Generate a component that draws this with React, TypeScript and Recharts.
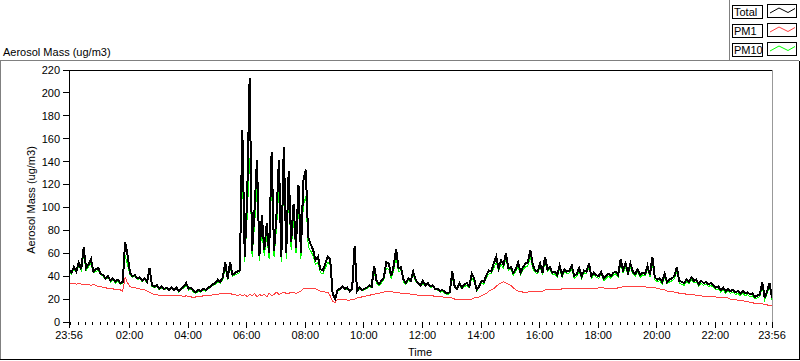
import { Line, LineChart, XAxis, YAxis } from "recharts"

// 5-minute samples starting at 23:56
const total = [
  45, 43, 48, 44, 52, 46, 65, 47, 50, 55, 44, 46,
  47, 42, 41, 38, 40, 36, 38, 35, 37, 34, 35, 70,
  58, 43, 40, 41, 38, 39, 36, 38, 35, 47, 32, 31,
  32, 29, 31, 29, 30, 28, 30, 28, 30, 27, 29, 31,
  34, 29, 30, 27, 26, 28, 27, 29, 28, 30, 31, 33,
  34, 37, 35, 39, 52, 38, 52, 41, 43, 44, 45, 168,
  57, 110, 213, 62, 98, 141, 58, 93, 63, 86, 60, 148,
  62, 94, 141, 57, 153, 60, 132, 70, 103, 65, 120, 60,
  123, 133, 74, 68, 63, 54, 57, 46, 45, 51, 57, 55,
  25, 20, 28, 29, 31, 29, 30, 27, 29, 66, 27, 30,
  28, 29, 30, 32, 31, 49, 36, 33, 36, 39, 52, 51,
  40, 49, 64, 47, 48, 37, 34, 38, 36, 44, 37, 34,
  32, 36, 32, 34, 31, 32, 29, 29, 27, 28, 26, 25,
  26, 44, 31, 29, 34, 30, 33, 34, 31, 42, 38, 28,
  31, 36, 35, 41, 45, 44, 51, 57, 47, 54, 50, 60,
  47, 48, 43, 46, 52, 43, 48, 51, 52, 63, 50, 45,
  44, 51, 43, 57, 46, 48, 43, 44, 41, 49, 41, 46,
  44, 45, 49, 40, 42, 47, 40, 45, 44, 51, 40, 43,
  41, 40, 44, 38, 40, 42, 40, 43, 44, 41, 55, 45,
  51, 43, 51, 44, 42, 46, 41, 43, 42, 49, 41, 57,
  39, 37, 38, 35, 42, 35, 37, 38, 40, 48, 36, 35,
  34, 37, 35, 39, 36, 37, 33, 36, 34, 35, 33, 34,
  32, 30, 31, 28, 30, 27, 29, 27, 28, 26, 27, 25,
  27, 25, 26, 24, 25, 22, 23, 24, 35, 21, 27, 34,
  21,
]

const pm10 = [
  44, 42, 46, 43, 49, 45, 58, 45, 48, 51, 43, 44,
  45, 41, 40, 37, 39, 35, 37, 34, 36, 33, 34, 58,
  50, 41, 39, 40, 37, 38, 35, 37, 34, 43, 31, 30,
  31, 28, 30, 28, 29, 27, 29, 27, 29, 26, 28, 30,
  32, 28, 29, 26, 25, 27, 26, 28, 27, 29, 30, 32,
  33, 35, 34, 37, 47, 37, 47, 40, 41, 42, 43, 130,
  52, 92, 143, 57, 84, 118, 53, 80, 58, 75, 55, 122,
  57, 81, 118, 52, 125, 55, 110, 63, 88, 60, 100, 55,
  102, 110, 66, 62, 58, 50, 52, 43, 42, 47, 52, 50,
  24, 19, 27, 28, 30, 28, 29, 26, 28, 56, 26, 29,
  27, 28, 29, 31, 30, 44, 34, 32, 34, 37, 47, 46,
  38, 45, 56, 44, 45, 35, 33, 36, 35, 41, 35, 33,
  31, 34, 31, 33, 30, 31, 28, 28, 26, 27, 25, 24,
  25, 39, 30, 28, 32, 29, 31, 32, 30, 39, 35, 27,
  30, 34, 33, 39, 42, 42, 47, 52, 45, 50, 47, 55,
  45, 46, 41, 44, 48, 41, 46, 48, 49, 57, 47, 43,
  42, 48, 41, 53, 44, 46, 41, 42, 39, 46, 39, 44,
  42, 43, 46, 38, 40, 44, 38, 43, 42, 48, 38, 41,
  39, 38, 42, 36, 38, 40, 38, 41, 42, 39, 50, 43,
  48, 41, 48, 42, 40, 44, 39, 41, 40, 46, 39, 51,
  37, 35, 36, 33, 39, 33, 35, 36, 38, 44, 34, 33,
  32, 35, 33, 37, 34, 35, 31, 34, 32, 33, 31, 32,
  30, 28, 29, 26, 28, 25, 27, 25, 26, 24, 25, 23,
  25, 23, 24, 22, 23, 20, 21, 22, 31, 19, 25, 30,
  19,
]

const pm1 = [
  34, 34, 34, 33, 34, 33, 33, 33, 33, 32, 33, 32,
  31, 31, 30, 30, 29, 29, 29, 28, 28, 28, 27, 39,
  34, 31, 30, 30, 29, 29, 28, 28, 27, 26, 25, 24,
  24, 23, 23, 23, 23, 23, 23, 23, 23, 23, 23, 22,
  23, 22, 22, 21, 22, 22, 22, 23, 23, 23, 23, 24,
  24, 24, 25, 25, 25, 25, 25, 24, 24, 23, 24, 23,
  24, 22, 24, 23, 25, 22, 24, 23, 24, 22, 25, 23,
  24, 26, 24, 25, 26, 25, 25, 26, 26, 25, 26, 27,
  29, 29, 29, 29, 29, 29, 28, 27, 27, 26, 26, 23,
  18, 17, 20, 20, 20, 20, 19, 19, 20, 20, 21, 21,
  22, 22, 23, 23, 24, 24, 25, 25, 26, 26, 27, 27,
  27, 26, 26, 26, 25, 25, 25, 25, 24, 24, 24, 23,
  23, 23, 23, 23, 23, 23, 22, 22, 22, 22, 21, 21,
  21, 21, 20, 20, 20, 20, 20, 20, 20, 20, 21, 21,
  22, 23, 24, 25, 27, 28, 29, 31, 33, 34, 35, 34,
  33, 32, 30, 28, 27, 27, 26, 26, 26, 27, 27, 27,
  27, 27, 27, 28, 28, 28, 28, 28, 28, 28, 29, 29,
  29, 29, 29, 29, 29, 29, 29, 29, 29, 29, 29, 29,
  29, 30, 30, 30, 29, 29, 29, 29, 29, 30, 30, 31,
  31, 31, 31, 31, 31, 31, 31, 31, 31, 30, 30, 30,
  30, 29, 29, 28, 28, 27, 27, 27, 26, 26, 25, 25,
  25, 24, 24, 24, 24, 23, 23, 23, 22, 22, 22, 22,
  22, 22, 21, 21, 21, 21, 21, 20, 20, 20, 19, 19,
  19, 18, 18, 17, 17, 16, 16, 16, 16, 15, 15, 14,
  14,
]

const majorTicks = [0, 124, 244, 364, 484, 604, 724, 844, 964, 1084, 1204, 1324, 1440]
const majorLabels = ["23:56", "02:00", "04:00", "06:00", "08:00", "10:00", "12:00", "14:00", "16:00", "18:00", "20:00", "22:00", "23:56"]
const yTicks = [0, 20, 40, 60, 80, 100, 120, 140, 160, 180, 200, 220]

const legendItems = [
  { name: "Total", color: "#000000" },
  { name: "PM1", color: "#ff4040" },
  { name: "PM10", color: "#00ff00" },
]

const data = total.map((v, i) => ({ t: i * 5, total: v, pm10: pm10[i], pm1: pm1[i] }))

// minor ticks every 15 min from 00:00
const minorTicks: number[] = []
for (let m = 4; m < 1440; m += 15) if (!majorTicks.includes(m)) minorTicks.push(m)
const xTicks = [...majorTicks, ...minorTicks].sort((a, b) => a - b)

const font = '"Liberation Sans", Arial, sans-serif'

function TimeTick({ x, y, payload }: any) {
  const idx = majorTicks.indexOf(payload.value)
  const major = idx >= 0
  return (
    <g>
      <line x1={x} x2={x} y1={y} y2={y + (major ? 6 : 3)} stroke="#000" shapeRendering="crispEdges" />
      {major && (
        <text x={x} y={y + 17} textAnchor="middle" fontSize={11} fontFamily={font} fill="#000">
          {majorLabels[idx]}
        </text>
      )}
    </g>
  )
}

export default function App() {
  return (
    <div style={{ position: "fixed", left: 0, top: 0, width: 800, height: 361, background: "#fff" }}>
      <style>{`.recharts-line-curve{shape-rendering:crispEdges}`}</style>
      <LineChart width={800} height={361} data={data} margin={{ top: 70, right: 28, left: 0, bottom: 0 }}>
        <XAxis
          dataKey="t"
          type="number"
          domain={[0, 1440]}
          ticks={xTicks}
          interval={0}
          tick={<TimeTick />}
          tickLine={false}
          axisLine={false}
          tickSize={0}
          tickMargin={0}
          height={39}
        />
        <YAxis
          type="number"
          domain={[0, 220]}
          ticks={yTicks}
          interval={0}
          width={69}
          tickSize={6}
          tickMargin={3}
          stroke="#000"
          tick={{ fill: "#000", fontSize: 11, fontFamily: font }}
          axisLine={{ stroke: "#000", shapeRendering: "crispEdges" }}
          tickLine={{ stroke: "#000", shapeRendering: "crispEdges" }}
        />
        <Line dataKey="pm1" stroke="#ff4040" strokeWidth={1} dot={false} isAnimationActive={false} type="linear" />
        <Line dataKey="pm10" stroke="#00ff00" strokeWidth={1} dot={false} isAnimationActive={false} type="linear" />
        <Line dataKey="total" stroke="#000000" strokeWidth={2} dot={false} isAnimationActive={false} type="linear" />
      </LineChart>
      <svg width={800} height={361} style={{ position: "absolute", left: 0, top: 0, pointerEvents: "none" }} shapeRendering="crispEdges">
        {/* outer frame */}
        <line x1={0} x2={799} y1={60.5} y2={60.5} stroke="#808080" />
        <line x1={0.5} x2={0.5} y1={61} y2={360} stroke="#808080" />
        <line x1={0} x2={800} y1={359.5} y2={359.5} stroke="#000" />
        <line x1={799.5} x2={799.5} y1={61} y2={360} stroke="#000" />
        <line x1={729.5} x2={729.5} y1={0} y2={61} stroke="#808080" />
        {/* plot border */}
        <line x1={69} x2={773} y1={70.5} y2={70.5} stroke="#000" />
        <line x1={772.5} x2={772.5} y1={70} y2={322} stroke="#999" />
        {/* legend */}
        {legendItems.map((it, i) => (
          <g key={it.name} transform={`translate(0, ${i * 19})`}>
            <rect x={732.5} y={5.5} width={30} height={13} fill="#fff" stroke="#000" />
            <text x={734} y={16} fontSize={11} fontFamily={font} fill="#000">{it.name}</text>
            <rect x={767.5} y={4.5} width={29} height={13} fill="#fff" stroke="#000" />
            <polyline points="770,13 779,8 788,12.5 795,8.5" fill="none" stroke={it.color} shapeRendering="auto" />
          </g>
        ))}
        <text x={3} y={56} fontSize={11} fontFamily={font} fill="#000">Aerosol Mass (ug/m3)</text>
        <text x={420} y={356} fontSize={11} fontFamily={font} fill="#000" textAnchor="middle">Time</text>
        <text x={0} y={0} transform="translate(35, 200) rotate(-90)" fontSize={11} fontFamily={font} fill="#000" textAnchor="middle">
          Aerosol Mass (ug/m3)
        </text>
      </svg>
    </div>
  )
}
